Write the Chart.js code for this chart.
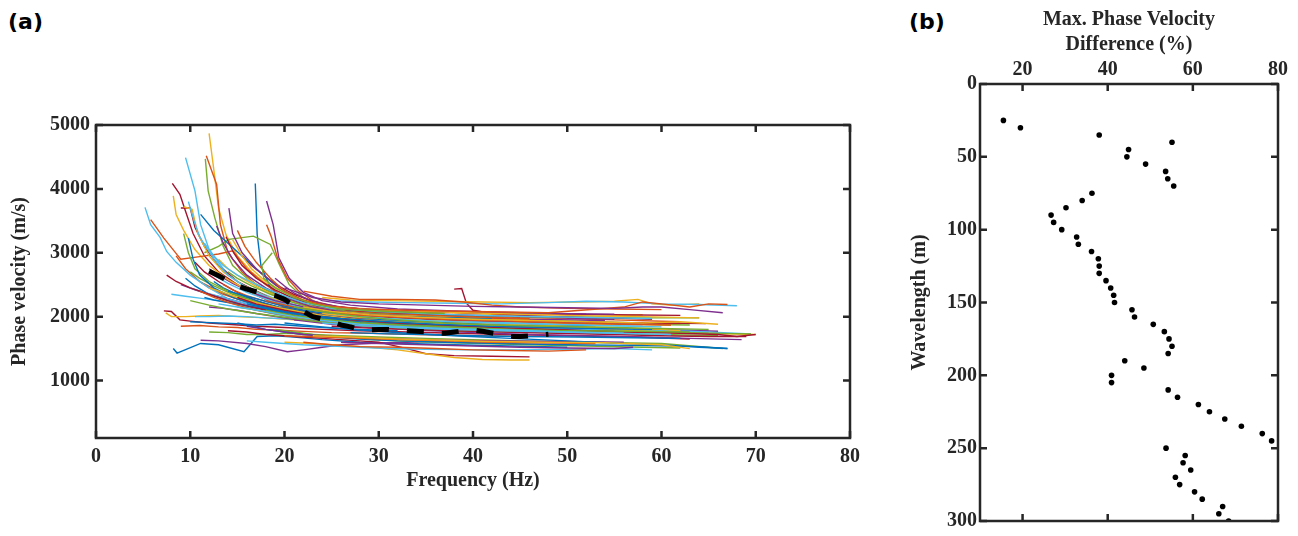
<!DOCTYPE html>
<html>
<head>
<meta charset="utf-8">
<script src="https://cdn.jsdelivr.net/npm/chart.js@4.4.1/dist/chart.umd.min.js"></script>
<style>
    body { margin: 0; background: #fff; width: 1298px; height: 536px; position: relative; overflow: hidden; }
    #painelA { position: absolute; left: 0; top: 0; }
    #painelB { position: absolute; left: 880px; top: 0; }
    .rotulo { position: absolute; font-family: "DejaVu Sans", sans-serif; font-weight: bold; font-size: 22px; line-height: 1; color: #000; }
</style>
</head>
<body>
<div class="rotulo" style="left:8px; top:11px;">(a)</div>
<div class="rotulo" style="left:909px; top:11px;">(b)</div>
<canvas id="painelA" width="880" height="536"></canvas>
<canvas id="painelB" width="418" height="536"></canvas>
<script>
// Eixos do painel (a)
const freqTicks = [0, 10, 20, 30, 40, 50, 60, 70, 80];
const velTicks = [1000, 2000, 3000, 4000, 5000];

// Curvas de dispersao: cada uma e [f, v, f, v, ...] (Hz, m/s)
const curvasIngremes = [
    [12,4870, 12.5,4300, 13,3700, 13.8,3280, 15,2950, 16.5,2700, 18,2520, 20,2380, 22,2250, 25,2150, 29,2120, 34,2080, 40,2050, 46,2010, 52,1990, 58,2030],
    [9.5,4490, 10.5,3970, 11.1,3440, 12,3050, 13.5,2750, 15,2550, 17,2400, 19,2280, 22,2150, 26,2000, 31,1960, 37,1920, 43,1880, 49,1850],
    [11.7,4520, 12.8,4070, 13.2,3440, 14,3000, 15.5,2700, 17,2500, 19,2350, 21,2220, 24,2100, 28,2050, 34,2020, 40,2000, 47,1980, 55,1950, 62,1920],
    [11.6,4470, 11.9,3970, 12.6,3550, 13.5,3100, 14.5,2800, 16,2600, 18,2420, 20,2280, 23,2150, 27,2060, 33,2000, 40,1960, 48,1930],
    [16.9,4085, 17.1,3290, 17.5,2800, 18.5,2450, 20,2280, 22,2180, 25,2100, 30,2060, 36,2030, 42,1990],
    [18.1,3810, 18.8,3440, 19.4,2920, 20.5,2600, 22,2380, 24,2250, 27,2180, 32,2120, 38,2090, 45,2060, 52,2040],
    [8.1,4085, 8.9,3915, 9.5,3650, 10.3,3300, 11.5,2950, 13,2700, 15,2500, 17.5,2300, 20,2150, 23,2040, 27,1960, 32,1900, 38,1870, 45,1830, 52,1800],
    [8.2,3890, 8.5,3600, 9.3,3350, 10.5,3050, 12,2800, 14,2580, 16.5,2380, 19,2220, 22,2100, 26,1990, 31,1930, 37,1880],
    [5.2,3710, 5.8,3440, 6.8,3240, 7.5,3020, 8.5,2850, 10,2650, 12,2450, 14,2280, 16,2150, 18.5,2050, 21,1980, 25,1900, 30,1850, 36,1820, 42,1780],
    [5.8,3520, 7.2,3230, 8.6,2970, 9,2900, 11,2940, 13,2980, 14.5,3030, 16,2750, 18,2500, 20,2300, 23,2150, 27,2060, 33,2010, 39,1980, 46,1950],
    [11.5,3000, 13,3100, 14.1,3210, 16.7,3260, 18.5,3130, 19.5,2800, 20.5,2500, 22,2300, 24,2180, 27,2080, 31,2020, 36,1980, 42,1950, 50,1930, 58,1900],
    [11.1,3600, 12.5,3350, 14,3150, 15.5,2950, 17,2750, 18.5,2560, 20,2400, 22,2250, 25,2120, 29,2060, 35,2000, 42,1970],
    [14.1,3700, 14.5,3300, 15.5,3000, 17,2750, 19,2500, 21,2300, 23,2180, 26,2100, 30,2050, 35,2030, 40,2010, 47,1990, 55,1960],
    [9,3700, 10,3700, 10.5,3400, 11.5,3100, 13,2800, 15,2550, 17,2400, 19,2250, 22,2100, 26,2000, 31,1940, 37,1900, 44,1870],
    [9.3,3720, 10.2,3680, 10.8,3300, 12,2950, 13.5,2700, 15.5,2500, 18,2320, 21,2180, 24,2080, 28,2000, 34,1950, 40,1920, 47,1900, 55,1880],
    [9.8,3800, 10.4,3500, 11,3250, 12.5,2900, 14,2650, 16,2450, 18.5,2280, 21,2150, 25,2030, 30,1960, 36,1900, 43,1860, 50,1830, 57,1800],
    [18.1,3440, 18.6,3250, 19.3,2900, 20.3,2600, 21.5,2400, 23,2250, 25,2150, 28,2080, 33,2040, 39,2000, 46,1970],
    [9.3,3300, 9.8,3000, 10.5,2750, 12,2550, 14,2400, 16,2280, 18,2180, 21,2080, 25,1980, 30,1900, 36,1860, 43,1820, 50,1790],
    [9.8,3230, 10.3,2900, 11,2650, 12.5,2450, 14.5,2300, 17,2180, 20,2080, 24,1980, 29,1900, 35,1850, 41,1820],
    [12.8,3420, 13.5,3150, 14.5,2900, 16,2650, 18,2450, 20,2300, 23,2150, 27,2050, 32,2000, 38,1960, 45,1930, 53,1900, 60,1880],
    [13.8,3250, 14.6,3000, 15.5,2800, 17,2600, 19,2420, 21,2280, 23.5,2170, 27,2100, 32,2060, 38,2030, 45,2000],
    [14.5,3200, 15.5,2950, 16.5,2750, 18,2550, 20,2380, 22.5,2230, 25,2150, 29,2110, 35,2080, 42,2050, 50,2020, 58,2000, 64,1980],
    [11.5,3150, 12.5,2950, 13.5,2800, 15,2650, 17,2500, 19.5,2350, 22,2220, 25,2130, 30,2080, 36,2040, 43,2010, 51,1990, 59,1970],
    [15,3350, 15.8,3100, 17,2850, 18.5,2600, 20,2400, 22,2260, 24.5,2170, 28,2120, 33,2100, 40,2080, 48,2060, 56,2150, 58,2230, 60,2200, 63,2150, 65,2200, 67,2190],
    [18.7,3000, 17.6,2800, 17.8,2600, 19,2450, 21,2300, 23,2200, 26,2120, 31,2080, 37,2050]
];

const curvasMedias = [
    [8.5,2950, 9.5,2750, 11,2550, 13,2400, 15,2280, 18,2150, 21,2050, 25,1960, 30,1900, 36,1870, 42,1840, 49,1820, 56,1800, 62,1780],
    [10,2700, 11,2600, 12.5,2480, 14.5,2350, 17,2230, 20,2120, 23,2030, 27,1960, 32,1920, 38,1890, 45,1860, 52,1840],
    [9.5,2600, 10.5,2480, 12,2350, 14,2250, 16.5,2150, 19,2080, 22,2000, 26,1930, 31,1880, 37,1840, 44,1810, 51,1790, 58,1770, 65,1750],
    [12,2750, 13,2650, 14.5,2520, 16.5,2380, 18.5,2270, 21,2180, 24,2100, 28,2050, 33,2010, 39,1980, 46,1960, 54,1940],
    [10.5,2850, 11.5,2700, 13,2550, 15,2380, 17,2250, 19.5,2120, 22,2030, 25.5,1950, 30,1880, 35,1850, 41,1820, 48,1790],
    [13,2900, 14,2750, 15.5,2600, 17.5,2430, 19.5,2300, 22,2180, 25,2090, 29,2030, 34,1990, 40,1950, 47,1920, 55,1890, 61,1870],
    [8,2350, 9.5,2320, 11,2290, 13,2250, 15,2200, 17.5,2150, 20,2080, 23,2010, 27,1950, 32,1900, 38,1870, 44,1850],
    [11,2550, 12,2450, 13.5,2350, 15.5,2250, 18,2150, 21,2070, 24,2000, 28,1940, 33,1900, 39,1860, 46,1830, 53,1810, 60,1790],
    [14,2700, 15,2600, 16.5,2480, 18.5,2350, 20.5,2240, 23,2140, 26,2060, 30,2000, 35,1960, 41,1930, 48,1900, 56,1880, 63,1870],
    [12.5,2550, 13.5,2450, 15,2350, 17,2250, 19.5,2150, 22,2080, 25,2020, 29,1970, 34,1930, 40,1900, 47,1880],
    [9,2500, 10.5,2420, 12,2350, 14,2280, 16,2200, 18.5,2120, 21,2050, 24.5,1980, 29,1920, 34,1880, 40,1850, 47,1830, 54,1800, 61,1790, 66,1770],
    [15.5,2950, 16.5,2800, 18,2620, 19.5,2470, 21,2350, 23,2240, 25.5,2160, 29,2110, 34,2080, 40,2060, 47,2040, 55,2030, 62,2020],
    [16,2600, 17,2500, 18.5,2400, 20.5,2280, 22.5,2180, 25,2110, 28,2060, 32,2030, 37,2010, 43,1990, 50,1980],
    [10,2450, 11.5,2380, 13,2320, 15,2240, 17,2170, 19.5,2100, 22,2030, 25,1960, 29,1900, 34,1860, 40,1830, 47,1810, 55,1790, 63,1770, 69.5,1730],
    [13.5,2500, 14.5,2420, 16,2330, 18,2240, 20,2160, 22.5,2090, 25.5,2030, 29,1990, 34,1960, 40,1940, 47,1920, 55,1900, 62,1890],
    [17,2500, 18,2430, 19.5,2340, 21,2260, 23,2180, 25.5,2110, 29,2060, 33,2040, 38,2020, 44,2000, 51,1990, 58,1980, 64,1980],
    [11.5,2300, 12.5,2260, 14,2220, 16,2170, 18,2120, 20.5,2060, 23,2000, 26,1940, 30,1890, 35,1850, 41,1820, 48,1790, 55,1770],
    [19,2600, 20,2480, 21,2370, 22.5,2270, 24,2200, 26.5,2140, 30,2100, 35,2080, 41,2060, 48,2050, 55,2040],
    [7.5,2650, 8.5,2550, 10,2450, 12,2350, 14,2250, 16.5,2150, 19,2070, 22,1990, 26,1920, 30,1870, 35,1840, 41,1810, 47,1790],
    [12,2450, 13.5,2380, 15,2300, 17,2220, 19,2150, 21.5,2080, 24,2020, 27.5,1960, 32,1920, 37,1890, 43,1870, 50,1850, 57,1780, 64,1740, 70,1720],
    [12.5,2650, 14,2520, 16,2380, 18.5,2250, 21,2150, 24,2070, 28,2000, 33,1960, 38,1930, 44,1900, 51,1870, 58,1850],
    [11,2400, 12.5,2300, 14.5,2200, 17,2100, 20,2020, 23,1950, 27,1880, 31,1830, 36,1790, 42,1760],
    [10,2250, 12,2180, 14,2120, 17,2050, 20,1990, 23,1930, 27,1870, 32,1820, 38,1780, 45,1760, 52,1740, 60,1720, 66,1700],
    [14,2400, 16,2320, 19,2200, 22,2100, 26,2020, 30,1960, 35,1920, 41,1890, 47,1870, 53,1860],
    [17,2350, 19,2250, 22,2150, 26,2060, 30,2010, 35,1970, 40,1940, 46,1920, 52,1900],
    [15,2300, 17,2200, 20,2100, 23,2020, 27,1950, 32,1900, 38,1860, 44,1820, 50,1790, 56,1760, 62,1740, 66,1720, 68,1690, 70,1720],
    [18,2250, 21,2150, 24,2080, 28,2020, 33,1980, 38,1950, 44,1930, 50,1900, 56,1880, 61,1870],
    [20,2450, 23,2300, 26,2230, 30,2200, 35,2180, 40,2160, 45,2150, 50,2140, 55,2130, 58,2150, 60,2150, 63,2110, 66.5,2060]
];

const curvasPlanas = [
    [8.2,1500, 8.6,1430, 11.1,1580, 13,1560, 15.7,1450, 17.1,1690, 19,1700, 21,1680, 24,1640, 28,1600, 33,1580, 38,1560, 44,1540, 50,1520],
    [11.1,1630, 13,1620, 16,1580, 18,1530, 20.3,1450, 22,1480, 24,1520, 26,1560, 29,1580, 33,1600, 38,1620],
    [7.2,2090, 8,2080, 8.9,1950, 10,1930, 12,1900, 14,1880, 17,1850, 20,1830, 24,1800, 28,1780, 33,1760, 38,1740, 44,1720, 50,1700, 57,1680, 63,1650],
    [7.4,2060, 8,2000, 9.5,2000, 11,2010, 13,2020, 15,2000, 18,1980, 21,1950, 25,1920, 30,1890, 36,1860, 42,1840, 49,1820],
    [10.5,2000, 12,2000, 14,2010, 16,2000, 18,1980, 21,1960, 24,1930, 28,1900, 33,1880, 38,1860, 44,1840, 51,1820, 58,1800, 65,1780],
    [9,1850, 11,1860, 13,1840, 15,1830, 17,1800, 19,1790, 22,1770, 25,1750, 29,1740, 34,1720, 40,1700, 46,1690],
    [12,1760, 14,1750, 16,1720, 18,1720, 20.5,1740, 23,1720, 26,1700, 30,1680, 35,1660, 40,1640, 45,1620, 52,1600, 60,1580, 66.5,1500],
    [10,1920, 11.5,1910, 13,1900, 15,1890, 17,1870, 19,1880, 22,1850, 25,1820, 28,1800, 32,1780],
    [12,2150, 13.5,2130, 15,2100, 17,2050, 19,2000, 21,1960, 24,1920, 28,1880, 32,1850, 37,1820, 43,1800, 50,1780, 57,1760],
    [14,1780, 16,1760, 18,1720, 21,1690, 24,1660, 28,1620, 30,1600, 33,1500, 35,1420, 38,1390, 42,1380, 46,1370],
    [20,1600, 23,1580, 26,1550, 29,1520, 32,1480, 35,1420, 38,1360, 41,1330, 44,1320, 46,1320],
    [16,1620, 18,1600, 20,1580, 22,1560, 25,1540, 28,1520, 31,1500, 35,1490, 40,1480, 45,1480, 50,1490, 55,1500, 59,1480],
    [22,1600, 25,1560, 28,1530, 32,1520, 36,1500, 40,1480, 44,1470, 48,1460, 52,1480],
    [19,1800, 21,1760, 23,1720, 26,1680, 29,1640, 32,1620, 36,1600, 41,1580, 46,1560, 52,1540, 58,1520, 62,1510],
    [15,1900, 16.5,1850, 18,1800, 20,1760, 22,1720, 25,1680, 28,1650, 32,1620, 37,1600, 43,1580, 50,1560, 57,1550, 64,1530, 67,1500],
    [16,1850, 18,1800, 20,1760, 22,1720, 25,1690, 28,1670, 32,1650, 37,1630, 43,1620, 49,1610, 56,1600],
    [38,2430, 38.8,2440, 39.3,2210, 40,2100, 42,2050, 45,2020, 49,2000, 54,1980, 59,1960],
    [24,2300, 27,2260, 31,2250, 36,2240, 41,2230, 46,2220, 51,2230, 55,2240, 57.5,2270, 59,2200, 61,2180, 64,2200],
    [25,2250, 29,2230, 33,2220, 38,2210, 43,2200, 48,2220, 52,2240, 56,2230, 60,2200, 64,2190, 68,2170],
    [22,2400, 25,2320, 28,2270, 32,2270, 36,2260, 39,2230, 42,2180, 45,2150, 50,2130, 55,2120, 60,2110],
    [18,2100, 21,2020, 24,1960, 28,1900, 33,1860, 39,1830, 45,1800, 51,1780, 57,1760, 63,1745, 69.5,1730],
    [20,1900, 24,1840, 28,1790, 33,1740, 38,1700, 44,1660, 50,1620, 56,1580, 61,1550, 64,1520, 67,1500],
    [21,1950, 25,1880, 29,1830, 34,1790, 40,1750, 46,1720, 52,1700, 58,1680, 63,1660, 68.5,1640],
    [23,2100, 27,2030, 31,1990, 36,1960, 42,1940, 48,1920, 54,1910, 60,1900, 64.7,1890],
    [24,2050, 28,1990, 33,1950, 38,1920, 44,1880, 50,1850, 56,1820, 60,1800, 62,1780],
    [20,2200, 23,2100, 27,2020, 31,1970, 36,1930, 42,1900, 48,1880, 54,1860, 60,1840],
    [16,2200, 19,2100, 22,2030, 26,1970, 31,1920, 36,1880, 42,1850, 48,1830, 54,1810, 59,1800],
    [22,2150, 25,2080, 29,2030, 34,1990, 40,1960, 46,1940, 52,1920, 58,1900, 62,1920, 66,1880],
    [15,2150, 18,2080, 21,2010, 24,1950, 28,1900, 33,1860, 38,1830, 44,1800, 50,1780, 57,1770, 63,1760],
    [13,2200, 15,2150, 18,2080, 21,2000, 24,1940, 28,1880, 33,1840, 38,1810, 44,1790, 50,1760, 56,1740],
    [25,1850, 29,1820, 33,1800, 38,1780, 43,1760, 49,1740, 55,1720, 60,1700, 65,1690, 69,1690],
    [27,1750, 31,1730, 35,1720, 40,1700, 45,1690, 51,1680, 57,1670, 62,1660],
    [20,1700, 24,1680, 28,1660, 32,1640, 37,1620, 42,1600, 47,1590, 53,1580],
    [23,1700, 27,1680, 32,1650, 37,1630, 42,1610, 48,1600, 54,1590, 60,1560, 63,1500],
    [26,1600, 30,1580, 35,1560, 40,1540, 45,1520, 50,1510, 55,1500, 57,1520],
    [21,2150, 24,2080, 28,2000, 32,1950, 37,1900, 42,1870, 48,1850, 55,1830, 61,1810, 65,1800],
    [24,1900, 28,1860, 32,1830, 37,1800, 43,1780, 49,1760, 55,1740, 61,1720]
];

// Curva media (tracejada)
const mediaFreq = [12, 13, 14, 15, 16, 17, 18, 19, 20, 21, 22, 23, 24, 25, 26, 27, 28, 29, 30, 31, 32, 33, 34, 35, 36, 37, 38, 39, 40, 41, 42, 43, 44, 45, 46, 47, 48];
const mediaVel = [2710, 2640, 2560, 2480, 2430, 2390, 2360, 2330, 2270, 2170, 2080, 2000, 1960, 1920, 1870, 1840, 1800, 1795, 1800, 1800, 1790, 1780, 1770, 1760, 1745, 1740, 1760, 1780, 1790, 1770, 1745, 1720, 1690, 1690, 1700, 1710, 1725];

// Painel (b)
const difTicks = [20, 40, 60, 80];
const compTicks = [0, 50, 100, 150, 200, 250, 300];
const comprimentos = [25, 30, 35, 40, 45, 50, 55, 60, 65, 70, 75, 80, 85, 90, 95, 100, 105, 110, 115, 120, 125, 130, 135, 140, 145, 150, 155, 160, 165, 170, 175, 180, 185, 190, 195, 200, 205, 210, 215, 220, 225, 230, 235, 240, 245, 250, 255, 260, 265, 270, 275, 280, 285, 290, 295, 300];
const difMaxima = [15.5, 19.5, 38.0, 55.1, 44.9, 44.5, 48.9, 53.6, 54.1, 55.5, 36.3, 34.0, 30.2, 26.7, 27.3, 29.2, 32.7, 33.1, 36.2, 37.8, 38.0, 38.0, 39.6, 40.7, 41.4, 41.6, 45.7, 46.3, 50.7, 53.3, 54.4, 55.1, 54.2, 44.0, 48.5, 40.9, 40.9, 54.2, 56.4, 61.3, 63.9, 67.5, 71.4, 76.3, 78.5, 53.7, 58.2, 57.7, 59.5, 55.9, 56.9, 60.4, 62.2, 67.0, 66.1, 68.4];

// Ordem de cores padrao do MATLAB
const coresMatlab = ['#0072BD', '#D95319', '#EDB120', '#7E2F8E', '#77AC30', '#4DBEEE', '#A2142F'];

const corEixo = '#262626';
const fonteTick = { family: '"Liberation Serif", "Times New Roman", serif', size: 20, weight: 'bold', lineHeight: 1.2 };
const fonteTitulo = { family: '"Liberation Serif", "Times New Roman", serif', size: 20, weight: 'bold', lineHeight: 1.25 };
const semGrade = { display: false, drawTicks: false, tickLength: 0 };

function paraPontos(lista) {
    const pts = [];
    for (let i = 0; i < lista.length; i += 2) {
        pts.push({ x: lista[i], y: lista[i + 1] });
    }
    return pts;
}

// intercala os grupos para misturar as cores como no plot original
function montarCurvas() {
    const todas = [];
    const n = Math.max(curvasIngremes.length, curvasMedias.length, curvasPlanas.length);
    for (let i = 0; i < n; i++) {
        if (curvasPlanas[i]) todas.push(curvasPlanas[i]);
        if (curvasMedias[i]) todas.push(curvasMedias[i]);
        if (curvasIngremes[i]) todas.push(curvasIngremes[i]);
    }
    return todas;
}

// moldura com ticks para dentro, nos quatro lados
const moldura = {
    id: 'moldura',
    afterDatasetsDraw(chart) {
        const { ctx, chartArea: a, scales } = chart;
        const sx = scales.x, sy = scales.y;
        const len = 7;
        ctx.save();
        ctx.strokeStyle = corEixo;
        ctx.lineWidth = 2.5;
        ctx.beginPath();
        sx.ticks.forEach(t => {
            const px = sx.getPixelForValue(t.value);
            ctx.moveTo(px, a.bottom); ctx.lineTo(px, a.bottom - len);
            ctx.moveTo(px, a.top); ctx.lineTo(px, a.top + len);
        });
        sy.ticks.forEach(t => {
            const py = sy.getPixelForValue(t.value);
            ctx.moveTo(a.left, py); ctx.lineTo(a.left + len, py);
            ctx.moveTo(a.right, py); ctx.lineTo(a.right - len, py);
        });
        ctx.stroke();
        ctx.strokeRect(a.left, a.top, a.right - a.left, a.bottom - a.top);
        ctx.restore();
    }
};

function inicializarPainelA() {
    const curvas = montarCurvas();
    const datasets = curvas.map((c, i) => ({
        data: paraPontos(c),
        borderColor: coresMatlab[i % coresMatlab.length],
        borderWidth: 1.4,
        pointRadius: 0,
        tension: 0,
        fill: false,
        order: curvas.length - i
    }));
    // media por cima de tudo
    datasets.push({
        data: mediaFreq.map((f, i) => ({ x: f, y: mediaVel[i] })),
        borderColor: '#000',
        borderWidth: 5,
        borderDash: [17, 18],
        borderCapStyle: 'butt',
        borderJoinStyle: 'bevel',
        pointRadius: 0,
        tension: 0,
        fill: false,
        order: -1
    });

    new Chart(document.getElementById('painelA'), {
        type: 'line',
        data: { datasets },
        options: {
            responsive: false,
            animation: false,
            layout: { padding: { top: 125, right: 30, bottom: 0, left: 0 } },
            plugins: { legend: { display: false }, tooltip: { enabled: false } },
            scales: {
                x: {
                    type: 'linear', min: 0, max: 80,
                    grid: semGrade, border: { display: false },
                    afterBuildTicks: s => { s.ticks = freqTicks.map(v => ({ value: v })); },
                    afterFit: s => { s.height = 98; },
                    ticks: { color: corEixo, font: fonteTick, padding: 7, maxRotation: 0, callback: v => String(v) },
                    title: { display: true, text: 'Frequency (Hz)', color: corEixo, font: fonteTitulo, padding: { bottom: 43 } }
                },
                y: {
                    type: 'linear', min: 100, max: 5000,
                    grid: semGrade, border: { display: false },
                    afterBuildTicks: s => { s.ticks = velTicks.map(v => ({ value: v })); },
                    afterFit: s => { s.width = 96; },
                    ticks: { color: corEixo, font: fonteTick, padding: 6, callback: v => String(v) },
                    title: { display: true, text: 'Phase velocity (m/s)', color: corEixo, font: fonteTitulo, padding: { top: 7 } }
                }
            }
        },
        plugins: [moldura]
    });
}

function inicializarPainelB() {
    new Chart(document.getElementById('painelB'), {
        type: 'scatter',
        data: {
            datasets: [{
                data: difMaxima.map((d, i) => ({ x: d, y: comprimentos[i] })),
                backgroundColor: '#000',
                borderWidth: 0,
                pointRadius: 2.8
            }]
        },
        options: {
            responsive: false,
            animation: false,
            layout: { padding: { top: 0, right: 20, bottom: 10, left: 0 } },
            plugins: { legend: { display: false }, tooltip: { enabled: false } },
            scales: {
                x: {
                    type: 'linear', position: 'top', min: 10, max: 80,
                    grid: semGrade, border: { display: false },
                    afterBuildTicks: s => { s.ticks = difTicks.map(v => ({ value: v })); },
                    afterFit: s => { s.height = 84; },
                    ticks: { color: corEixo, font: fonteTick, padding: 2, maxRotation: 0, callback: v => String(v) },
                    title: { display: true, text: ['Max. Phase Velocity', 'Difference (%)'], color: corEixo, font: fonteTitulo, padding: { top: 7 } }
                },
                y: {
                    type: 'linear', reverse: true, min: 0, max: 300,
                    grid: semGrade, border: { display: false },
                    afterBuildTicks: s => { s.ticks = compTicks.map(v => ({ value: v })); },
                    afterFit: s => { s.width = 100; },
                    ticks: { color: corEixo, font: fonteTick, padding: 3, callback: v => String(v) },
                    title: { display: true, text: 'Wavelength (m)', color: corEixo, font: fonteTitulo, padding: { top: 27 } }
                }
            }
        },
        plugins: [moldura]
    });
}

document.addEventListener('DOMContentLoaded', function() {
    inicializarPainelA();
    inicializarPainelB();
});
</script>
</body>
</html>
